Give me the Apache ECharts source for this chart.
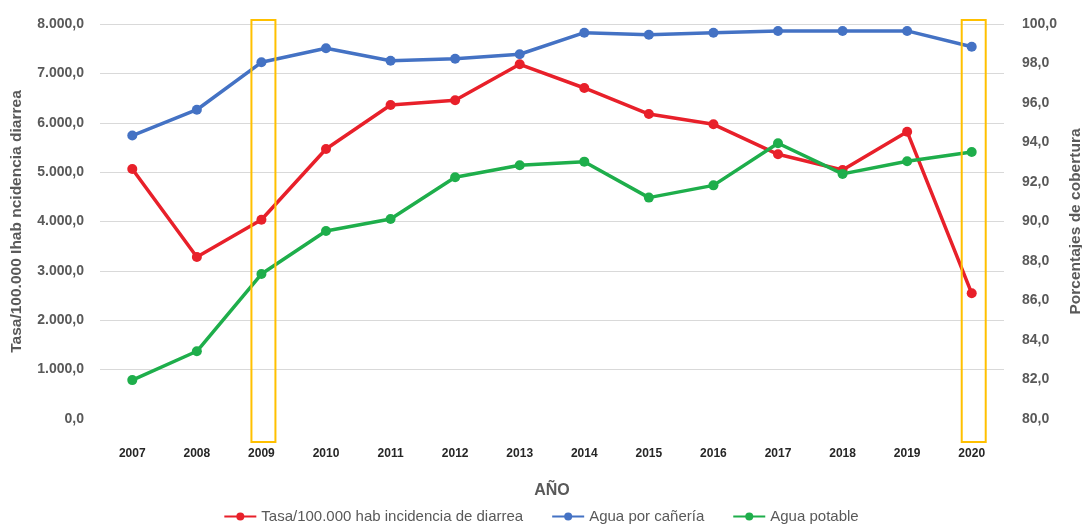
<!DOCTYPE html>
<html>
<head>
<meta charset="utf-8">
<script src="https://cdn.jsdelivr.net/npm/echarts@6/dist/echarts.min.js"></script>
<style>
  html, body { margin: 0; padding: 0; background: #fff; }
  #chart { width: 1082px; height: 527px; }
</style>
</head>
<body>
<div id="chart"></div>
<script>
// Años
const years = ['2007','2008','2009','2010','2011','2012','2013','2014','2015','2016','2017','2018','2019','2020'];

// Tasa por 100.000 habitantes (eje izquierdo)
const tasaDiarrea = [5063, 3281, 4036, 5468, 6359, 6455, 7184, 6704, 6177, 5968, 5361, 5043, 5819, 2546];

// Porcentajes de cobertura (eje derecho)
const aguaCaneria = [94.35, 95.66, 98.06, 98.77, 98.14, 98.24, 98.47, 99.56, 99.46, 99.56, 99.65, 99.65, 99.65, 98.85];
const aguaPotable = [81.97, 83.43, 87.34, 89.52, 90.13, 92.24, 92.85, 93.03, 91.21, 91.83, 93.96, 92.41, 93.05, 93.52];

// Años resaltados con un recuadro
const highlightYears = ['2009', '2020'];

const seriesNames = ['Tasa/100.000 hab incidencia de diarrea', 'Agua por cañería', 'Agua potable'];

const FONT = '"Liberation Sans", Arial, sans-serif';
const GREY = '#595959';

function fmtMiles(v) {
  const parts = v.toFixed(1).split('.');
  const ent = parts[0].replace(/\B(?=(\d{3})+(?!\d))/g, '.');
  return ent + ',' + parts[1];
}
function fmtPct(v) {
  return v.toFixed(1).replace('.', ',');
}

const chart = echarts.init(document.getElementById('chart'), null, { renderer: 'canvas' });

const lineStyleBase = { width: 3.5 };

chart.setOption({
  animation: false,
  backgroundColor: '#ffffff',
  grid: { left: 100, right: 78, top: 24, bottom: 108, containLabel: false, outerBoundsMode: 'none' },
  legend: {
    bottom: -2,
    left: 'center',
    itemWidth: 32,
    itemHeight: 10,
    itemGap: 28,
    textStyle: { fontFamily: FONT, fontSize: 15, color: GREY },
    data: seriesNames
  },
  xAxis: {
    type: 'category',
    data: years,
    boundaryGap: true,
    name: 'AÑO',
    nameLocation: 'middle',
    nameGap: 64,
    nameTextStyle: { fontFamily: FONT, fontSize: 16, fontWeight: 'bold', color: GREY },
    axisLine: { show: false },
    axisTick: { show: false },
    axisLabel: { fontFamily: FONT, fontSize: 12, fontWeight: 'bold', color: '#262626', margin: 29, interval: 0 }
  },
  yAxis: [
    {
      type: 'value',
      min: 0, max: 8000, interval: 1000,
      name: 'Tasa/100.000 Ihab ncidencia diarrea',
      nameLocation: 'middle',
      nameGap: 75,
      nameRotate: 90,
      nameTextStyle: { fontFamily: FONT, fontSize: 15.5, fontWeight: 'bold', color: GREY },
      axisLine: { show: false },
      axisTick: { show: false },
      axisLabel: { fontFamily: FONT, fontSize: 14, fontWeight: 'bold', color: GREY, margin: 16, formatter: fmtMiles },
      splitLine: { show: true, showMinLine: false, lineStyle: { color: '#D9D9D9', width: 1 } }
    },
    {
      type: 'value',
      min: 80, max: 100, interval: 2,
      name: 'Porcentajes de cobertura',
      nameLocation: 'middle',
      nameGap: 63,
      nameRotate: 90,
      nameTextStyle: { fontFamily: FONT, fontSize: 15.5, fontWeight: 'bold', color: GREY },
      axisLine: { show: false },
      axisTick: { show: false },
      axisLabel: { fontFamily: FONT, fontSize: 14, fontWeight: 'bold', color: GREY, margin: 18, formatter: fmtPct },
      splitLine: { show: false }
    }
  ],
  series: [
    {
      name: seriesNames[0], type: 'line', yAxisIndex: 0, data: tasaDiarrea,
      color: '#E8202A', symbol: 'circle', symbolSize: 10,
      lineStyle: Object.assign({}, lineStyleBase), z: 3
    },
    {
      name: seriesNames[1], type: 'line', yAxisIndex: 1, data: aguaCaneria,
      color: '#4472C4', symbol: 'circle', symbolSize: 10,
      lineStyle: Object.assign({}, lineStyleBase), z: 2
    },
    {
      name: seriesNames[2], type: 'line', yAxisIndex: 1, data: aguaPotable,
      color: '#1EAE4B', symbol: 'circle', symbolSize: 10,
      lineStyle: Object.assign({}, lineStyleBase), z: 4
    }
  ]
});

// Recuadros de resalte sobre los años indicados
function drawHighlights() {
  const yTop = chart.convertToPixel({ yAxisIndex: 0 }, 8000) - 4;
  const yBot = chart.convertToPixel({ yAxisIndex: 0 }, 0) + 23;
  const elements = highlightYears.map(function (yr) {
    const cx = chart.convertToPixel({ xAxisIndex: 0 }, yr) + 2;
    return {
      type: 'rect',
      shape: { x: cx - 12, y: yTop, width: 24, height: yBot - yTop },
      style: { fill: 'none', stroke: '#FFC000', lineWidth: 2 },
      z: 10
    };
  });
  chart.setOption({ graphic: elements });
}
drawHighlights();
</script>
</body>
</html>
